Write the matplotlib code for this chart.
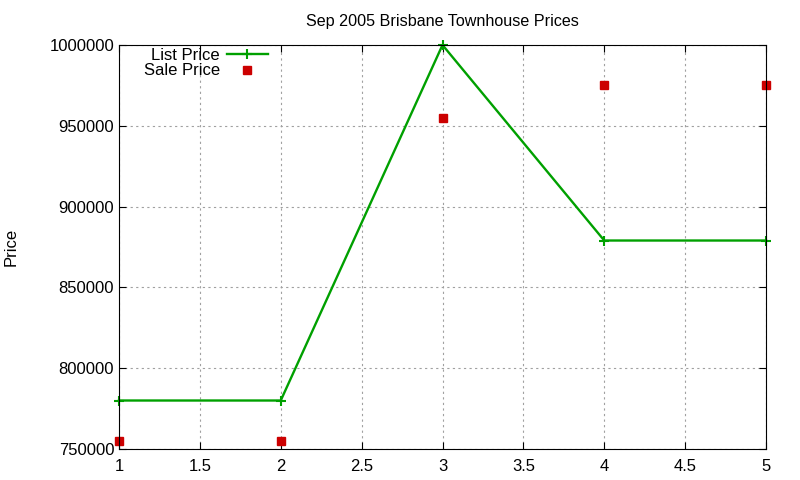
import matplotlib
matplotlib.use("Agg")
import matplotlib.pyplot as plt

x_vals = [1, 2, 3, 4, 5]
list_price = [780000, 780000, 1000000, 879000, 879000]
sale_price = [755000, 755000, 955000, 975000, 975000]

plt.rcParams['font.family'] = ['Liberation Sans', 'DejaVu Sans']

fig = plt.figure(figsize=(8, 4.8), dpi=100)
ax = fig.add_axes([0.14875, 0.0646, 0.80875, 0.8417])

ax.plot(x_vals, list_price, color='#00a000', linewidth=1.7, marker='+',
        markersize=7, markeredgewidth=1.5, label='List Price', clip_on=False)
ax.plot(x_vals, sale_price, linestyle='none', color='#cc0000', marker='s',
        markersize=6, label='Sale Price', clip_on=False)

ax.set_xlim(1, 5)
ax.set_ylim(750000, 1000000)
ax.set_xticks([1, 1.5, 2, 2.5, 3, 3.5, 4, 4.5, 5])
ax.set_xticklabels(['1', '1.5', '2', '2.5', '3', '3.5', '4', '4.5', '5'])
ax.set_yticks([750000, 800000, 850000, 900000, 950000, 1000000])
ax.set_yticklabels(['750000', '800000', '850000', '900000', '950000', '1000000'])
ax.tick_params(direction='in', top=True, right=True, labelsize=12, length=5)
ax.tick_params(axis='x', pad=7)
ax.grid(True, linestyle=(0, (2, 3)), color='#a0a0a0', linewidth=0.8)

ax.set_title('Sep 2005 Brisbane Townhouse Prices', fontsize=11.6, pad=14)
ax.set_ylabel('Price', fontsize=12)
ax.yaxis.set_label_coords(-0.155, 0.5)

ax.legend(loc='upper left', frameon=False, markerfirst=False, fontsize=12,
          handlelength=2.5, handletextpad=0.4, borderaxespad=0.0,
          labelspacing=0.05, bbox_to_anchor=(0.028, 1.01))

fig.savefig('out.png', dpi=100)
